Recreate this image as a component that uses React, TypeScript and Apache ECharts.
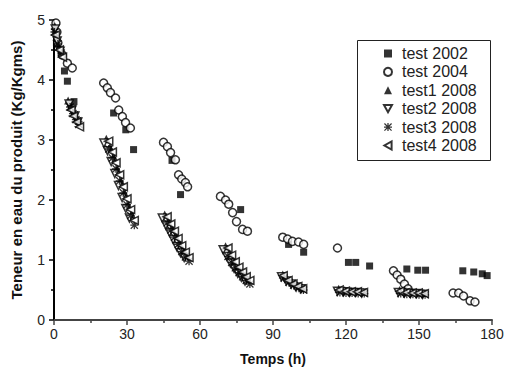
import React, { useEffect, useRef } from "react";
import * as echarts from "echarts";

type Pt = [number, number];

const seriesNames = ["test 2002", "test 2004", "test1 2008", "test2 2008", "test3 2008", "test4 2008"];
const xTicks = [0, 30, 60, 90, 120, 150, 180];
const yTicks = [0, 1, 2, 3, 4, 5];

const test2002: Pt[] = [
  [1, 4.62], [4.3, 4.15], [5.5, 3.98], [8.2, 3.64],
  [24.5, 3.45], [29.5, 3.17], [32.7, 2.84],
  [48.5, 2.66], [52, 2.09],
  [76.7, 1.84],
  [96.4, 1.26], [102.6, 1.13],
  [121, 0.96], [124, 0.96], [129.7, 0.9],
  [145, 0.85], [149.5, 0.83], [152.7, 0.83],
  [168, 0.82], [172.5, 0.8], [176, 0.77], [178, 0.74],
];

const test2004: Pt[] = [
  [0.8, 4.95], [1.2, 4.8], [1.6, 4.62], [3.4, 4.42], [5.5, 4.28], [7.5, 4.2],
  [20.4, 3.95], [21.9, 3.87], [23.2, 3.79], [25.3, 3.7], [26.6, 3.5], [28.1, 3.39], [29.4, 3.29], [31.4, 3.2],
  [45, 2.96], [46.6, 2.89], [47.9, 2.79], [49.9, 2.67], [51.2, 2.42], [52.5, 2.35], [54, 2.29], [54.9, 2.22],
  [68.4, 2.06], [70.5, 2.0], [71.8, 1.93], [73.4, 1.79], [75, 1.64], [77.5, 1.51], [79.5, 1.48],
  [94, 1.38], [96, 1.35], [98, 1.31], [100.5, 1.3], [102.6, 1.26],
  [116.5, 1.2],
  [139.5, 0.82], [141, 0.75], [142.5, 0.68], [144, 0.6], [145.5, 0.52],
  [164, 0.45], [166.3, 0.45], [168.3, 0.4], [171, 0.32], [173, 0.3],
];

const test1_2008: Pt[] = [
  [0.3, 4.9], [1.0, 4.72], [2.0, 4.55], [5.8, 3.66], [7.0, 3.55], [8.2, 3.45], [9.5, 3.35],
  [21.5, 3.02], [23, 2.88], [24.5, 2.72], [26, 2.52], [27.5, 2.32], [29, 2.12], [30.5, 1.92], [32, 1.76],
  [45.5, 1.76], [47, 1.64], [48.5, 1.52], [50, 1.4], [51.5, 1.28], [53, 1.17], [54.5, 1.08],
  [70.5, 1.23], [72, 1.12], [73.5, 1.0], [75, 0.9], [76.5, 0.82], [78, 0.75], [79.5, 0.68],
  [94, 0.76], [96, 0.68], [98, 0.62], [100, 0.57], [102, 0.53],
  [117, 0.52], [119.5, 0.5], [122, 0.49], [124.5, 0.48], [127, 0.47],
  [142, 0.5], [144.5, 0.48], [147, 0.47], [149.5, 0.46], [152, 0.45],
];

const test2_2008: Pt[] = [
  [0.5, 4.85], [1.3, 4.65], [2.5, 4.48], [6.2, 3.6], [7.4, 3.5], [8.6, 3.4], [9.8, 3.3],
  [20.5, 2.95], [22, 2.82], [23.5, 2.64], [25, 2.44], [26.5, 2.24], [28, 2.04], [29.5, 1.86], [31, 1.7],
  [44.5, 1.7], [46, 1.58], [47.5, 1.46], [49, 1.34], [50.5, 1.22], [52, 1.12], [53.5, 1.04],
  [69.5, 1.17], [71, 1.06], [72.5, 0.95], [74, 0.86], [75.5, 0.78], [77, 0.71], [78.5, 0.65],
  [93.5, 0.72], [95.5, 0.65], [97.5, 0.6], [99.5, 0.55], [101.5, 0.52],
  [116.5, 0.48], [119, 0.47], [121.5, 0.46], [124, 0.46], [126.5, 0.45],
  [141.5, 0.46], [144, 0.45], [146.5, 0.44], [149, 0.44], [151.5, 0.43],
];

const test3_2008: Pt[] = [
  [0.2, 4.8], [1.6, 4.6], [3.0, 4.45], [6.6, 3.55], [7.8, 3.44], [9.0, 3.34], [10.2, 3.26],
  [22.5, 2.85], [24, 2.7], [25.5, 2.52], [27, 2.32], [28.5, 2.12], [30, 1.92], [31.5, 1.74], [33, 1.58],
  [46.5, 1.62], [48, 1.5], [49.5, 1.38], [51, 1.26], [52.5, 1.14], [54, 1.05], [55.5, 0.98],
  [71.5, 1.06], [73, 0.96], [74.5, 0.87], [76, 0.79], [77.5, 0.72], [79, 0.66], [80.5, 0.6],
  [94.5, 0.7], [96.5, 0.63], [98.5, 0.58], [100.5, 0.54], [102.5, 0.5],
  [117.5, 0.46], [120, 0.45], [122.5, 0.45], [125, 0.44], [127.5, 0.44],
  [142.5, 0.44], [145, 0.43], [147.5, 0.43], [150, 0.42], [152.5, 0.42],
];

const test4_2008: Pt[] = [
  [0.6, 4.75], [2.2, 4.5], [3.5, 4.38], [7.0, 3.5], [8.0, 3.4], [9.3, 3.3], [10.5, 3.22],
  [22.5, 2.98], [24, 2.8], [25.5, 2.62], [27, 2.42], [28.5, 2.22], [30, 2.02], [31.5, 1.84], [33, 1.66],
  [46.5, 1.72], [48, 1.6], [49.5, 1.48], [51, 1.36], [52.5, 1.24], [54, 1.13], [55.5, 1.04],
  [71.5, 1.2], [73, 1.08], [74.5, 0.97], [76, 0.88], [77.5, 0.8], [79, 0.72], [80.5, 0.66],
  [94.2, 0.74], [96.2, 0.66], [98.2, 0.6], [100.2, 0.56], [102.2, 0.52],
  [117.2, 0.5], [119.7, 0.48], [122.2, 0.47], [124.7, 0.47], [127.2, 0.46],
  [142.2, 0.48], [144.7, 0.46], [147.2, 0.45], [149.7, 0.45], [152.2, 0.44],
];

const FONT = "'Liberation Sans', Arial, Helvetica, sans-serif";

// marker outlines, drawn as path symbols so the legend shows the same orientation
const ASTERISK =
  "path://M4.2,0H5.8V10H4.2Z M0,4.2H10V5.8H0Z M1.1,0L10,8.9L8.9,10L0,1.1Z M8.9,0L10,1.1L1.1,10L0,8.9Z";
const TRI_DOWN = "path://M0,0L10,0L5,9Z";
const TRI_LEFT = "path://M9,0L9,10L0,5Z";

const filled = { color: "#000" };
const hollow = { color: "#fff", borderColor: "#000", borderWidth: 1.5 };

export default function App() {
  const ref = useRef<HTMLDivElement>(null);

  useEffect(() => {
    if (!ref.current) return;
    const chart = echarts.init(ref.current, undefined, { renderer: "svg" });

    const mk = (name: string, data: Pt[], symbol: string, size: number, style: any) => ({
      name,
      type: "scatter",
      data,
      symbol,
      symbolSize: size,
      itemStyle: style,
    });

    chart.setOption({
      animation: false,
      backgroundColor: "#fff",
      textStyle: { fontFamily: FONT },
      grid: { left: 54, right: 15, top: 20, bottom: 50 },
      xAxis: {
        type: "value",
        min: xTicks[0],
        max: xTicks[xTicks.length - 1],
        interval: 30,
        name: "Temps (h)",
        nameLocation: "middle",
        nameGap: 32,
        nameTextStyle: { fontSize: 14, fontWeight: "bold", color: "#111", fontFamily: FONT },
        axisLine: { show: true, onZero: false, lineStyle: { color: "#444", width: 2 } },
        axisTick: { show: true, length: 5, lineStyle: { color: "#444", width: 1.5 } },
        minorTick: { show: true, splitNumber: 2, length: 3, lineStyle: { color: "#444", width: 1.5 } },
        axisLabel: { fontSize: 14, color: "#222", margin: 7, fontFamily: FONT },
        splitLine: { show: false },
      },
      yAxis: {
        type: "value",
        min: yTicks[0],
        max: yTicks[yTicks.length - 1],
        interval: 1,
        name: "Teneur en eau du produit (Kg/Kgms)",
        nameLocation: "middle",
        nameRotate: 90,
        nameGap: 30,
        nameTextStyle: { fontSize: 15, fontWeight: "bold", color: "#111", fontFamily: FONT },
        axisLine: { show: true, onZero: false, lineStyle: { color: "#000", width: 2 } },
        axisTick: { show: true, length: 5, lineStyle: { color: "#000", width: 1.5 } },
        minorTick: { show: true, splitNumber: 2, length: 3, lineStyle: { color: "#000", width: 1.5 } },
        axisLabel: { fontSize: 14, color: "#222", margin: 9, fontFamily: FONT },
        splitLine: { show: false },
      },
      legend: {
        orient: "vertical",
        left: 378,
        top: 40,
        itemWidth: 8,
        itemHeight: 8,
        itemGap: 1.4,
        data: seriesNames,
        textStyle: { fontSize: 16, color: "#222", fontFamily: FONT, lineHeight: 17, padding: [0, 0, 0, 5] },
      },
      graphic: [
        {
          type: "rect",
          left: 355,
          top: 38,
          shape: { width: 133, height: 120 },
          style: { fill: "none", stroke: "#222", lineWidth: 1 },
          z: -1,
        },
      ],
      series: [
        mk(seriesNames[0], test2002, "rect", 7, filled),
        mk(seriesNames[1], test2004, "circle", 8, hollow),
        mk(seriesNames[2], test1_2008, "triangle", 8, filled),
        mk(seriesNames[3], test2_2008, TRI_DOWN, 8, hollow),
        mk(seriesNames[4], test3_2008, ASTERISK, 8, filled),
        mk(seriesNames[5], test4_2008, TRI_LEFT, 8, hollow),
      ],
    });

    return () => chart.dispose();
  }, []);

  return (
    <div
      ref={ref}
      style={{ position: "absolute", left: 0, top: 0, width: 507, height: 371, background: "#fff" }}
    />
  );
}
